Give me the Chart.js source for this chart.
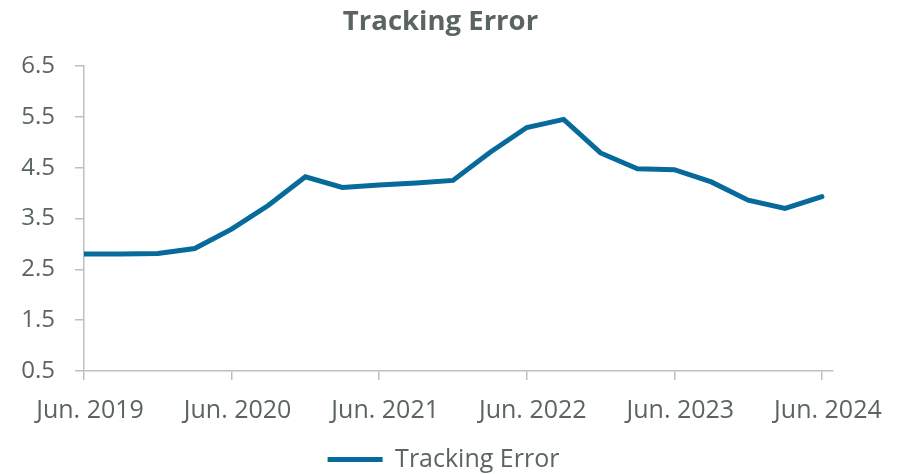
<!DOCTYPE html>
<html>
<head>
<meta charset="utf-8">
<script src="https://cdn.jsdelivr.net/npm/chart.js@4"></script>
<style>
  html, body { margin: 0; padding: 0; background: #fff; }
  #wrap { width: 905px; height: 474px; }
</style>
</head>
<body>
<div id="wrap"><canvas id="line-chart"></canvas></div>
<script>
// quarterly tracking error, Jun. 2019 -> Jun. 2024
var quarters = ["Jun. 2019", "Sep. 2019", "Dec. 2019", "Mar. 2020",
  "Jun. 2020", "Sep. 2020", "Dec. 2020", "Mar. 2021",
  "Jun. 2021", "Sep. 2021", "Dec. 2021", "Mar. 2022",
  "Jun. 2022", "Sep. 2022", "Dec. 2022", "Mar. 2023",
  "Jun. 2023", "Sep. 2023", "Dec. 2023", "Mar. 2024",
  "Jun. 2024"];
var trackErr = [2.80, 2.80, 2.81, 2.91, 3.29, 3.76, 4.32, 4.11, 4.16, 4.20,
  4.25, 4.80, 5.29, 5.45, 4.79, 4.48, 4.46, 4.22, 3.86, 3.70, 3.93];
var yTicks = [0.5, 1.5, 2.5, 3.5, 4.5, 5.5, 6.5];
var xTicks = [0, 4, 8, 12, 16, 20]; // positions of the June labels

var txtCol = "#5a6561";
var lineCol = "#066a9a";
var axisCol = "#bfbfbf";
var fam = "'Open Sans', 'Noto Sans', sans-serif";

var pts = trackErr.map(function (v, i) { return { x: i, y: v }; });

// title + legend sit a bit right of the plot centre in the original
const nudge = {
  id: "nudge",
  afterLayout: function (c) {
    c.titleBlock.left += 20; c.titleBlock.right += 20;
    c.legend.left += 23; c.legend.right += 23;
    c.legend.top += 9; c.legend.bottom += 9;
  }
};

var chart = new Chart(document.getElementById("line-chart"), {
  type: "line",
  data: {
    datasets: [{
      label: "Tracking Error",
      data: pts,
      borderColor: lineCol,
      backgroundColor: lineCol,
      borderWidth: 5,
      borderCapStyle: "round",
      borderJoinStyle: "miter",
      pointRadius: 0,
      tension: 0,
      fill: false
    }]
  },
  plugins: [nudge],
  options: {
    responsive: true,
    maintainAspectRatio: false,
    animation: false,
    layout: { padding: { left: 8, right: 72, top: 6, bottom: 1 } },
    plugins: {
      title: {
        display: true,
        text: "Tracking Error",
        color: txtCol,
        font: { family: fam, size: 27.5, weight: "bold" },
        padding: { top: 0, bottom: 27 }
      },
      legend: {
        position: "bottom",
        labels: {
          usePointStyle: true,
          pointStyle: "line",
          pointStyleWidth: 55,
          color: txtCol,
          font: { family: fam, size: 25 },
          padding: 0
        }
      },
      tooltip: { enabled: false }
    },
    scales: {
      x: {
        type: "linear",
        min: 0,
        max: 20.3,
        afterBuildTicks: function (s) {
          s.ticks = xTicks.map(function (v) { return { value: v }; });
        },
        afterFit: function (s) { s.height -= 4; },
        ticks: {
          color: txtCol,
          font: { family: fam, size: 25 },
          padding: 16,
          labelOffset: 6,
          maxRotation: 0,
          callback: function (v) { return quarters[v]; }
        },
        grid: { drawOnChartArea: false, drawTicks: true, tickLength: 9, color: axisCol, lineWidth: 1.5 },
        border: { color: axisCol, width: 1.5 }
      },
      y: {
        min: 0.5,
        max: 6.5,
        afterBuildTicks: function (s) {
          s.ticks = yTicks.map(function (v) { return { value: v }; });
        },
        afterFit: function (s) { s.width = 76; },
        ticks: {
          color: txtCol,
          font: { family: fam, size: 24 },
          padding: 20,
          callback: function (v) { return v.toFixed(1); }
        },
        grid: { drawOnChartArea: false, drawTicks: true, tickLength: 9, color: axisCol, lineWidth: 1.5 },
        border: { color: axisCol, width: 1.5 }
      }
    }
  }
});
</script>
</body>
</html>
